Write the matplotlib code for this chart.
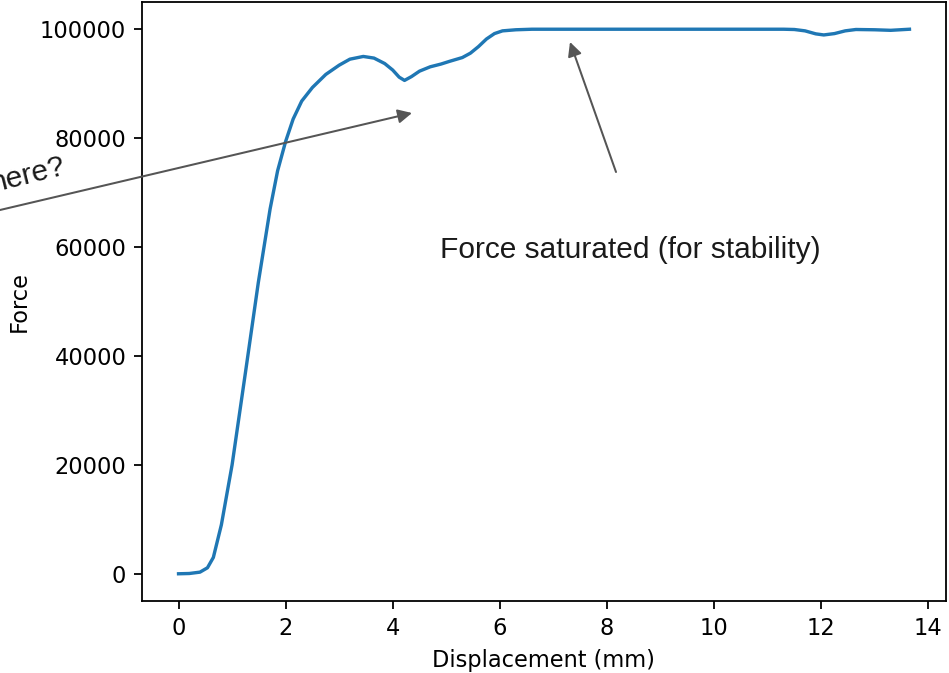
import matplotlib
matplotlib.use("Agg")
import matplotlib.pyplot as plt
from matplotlib.patches import FancyArrowPatch
import numpy as np

# Data
displacement = [0.00, 0.20, 0.40, 0.54, 0.65, 0.80, 1.00, 1.25, 1.49, 1.71, 1.85, 2.00,
                2.14, 2.30, 2.50, 2.75, 3.00, 3.20, 3.45, 3.65, 3.85, 4.00, 4.12, 4.22,
                4.35, 4.50, 4.70, 4.90, 5.06, 5.30, 5.45, 5.60, 5.75, 5.90, 6.05, 6.30,
                6.60, 7.50, 8.50, 9.50, 10.50, 11.30, 11.50, 11.70, 11.90, 12.05, 12.25,
                12.45, 12.65, 13.00, 13.30, 13.65]
force = [0, 50, 300, 1100, 3000, 9000, 20000, 37000, 53500, 67000, 74000, 79400,
         83500, 86800, 89300, 91700, 93400, 94500, 95000, 94700, 93700, 92500, 91200, 90600,
         91300, 92300, 93100, 93600, 94100, 94800, 95600, 96800, 98200, 99200, 99700, 99900,
         100000, 100000, 100000, 100000, 100000, 100000, 99950, 99700, 99150, 98950, 99200,
         99700, 99950, 99900, 99800, 100000]

xlabel = "Displacement (mm)"
ylabel = "Force"
note_saturated = "Force saturated (for stability)"
note_here = "here?"

W, H = 949, 673
DPI = 162
fig = plt.figure(figsize=(W / DPI, H / DPI), dpi=DPI)
ax = fig.add_axes([142 / W, (H - 601) / H, (946 - 142) / W, (601 - 2) / H])
ax.plot(displacement, force, color="#1f77b4", lw=1.5)
ax.set_xlabel(xlabel)
ax.set_ylabel(ylabel)
ax.set_xticks(np.arange(0, 15, 2))
ax.set_yticks(np.arange(0, 100001, 20000))

annot_font = ["Liberation Sans", "DejaVu Sans"]
arrow_kw = dict(arrowstyle="-|>", color="#555555", lw=0.9, shrinkA=0, shrinkB=0,
                mutation_scale=13)

# Arrow pointing at the dip
fig.add_artist(FancyArrowPatch(
    (0 / W, (H - 210) / H), (412 / W, (H - 113) / H),
    transform=fig.transFigure, **arrow_kw))
# Arrow pointing at the saturated region
fig.add_artist(FancyArrowPatch(
    (616 / W, (H - 172) / H), (570 / W, (H - 42) / H),
    transform=fig.transFigure, **arrow_kw))

fig.text(440 / W, (H - 258) / H, note_saturated, fontsize=13.3, family=annot_font,
         color="#1a1a1a", ha="left", va="baseline")
fig.text(67 / W, (H - 173) / H, note_here, fontsize=13.3, family=annot_font,
         color="#1a1a1a", ha="right", va="baseline", rotation=14,
         rotation_mode="anchor")

fig.savefig("out.png", dpi=DPI)
